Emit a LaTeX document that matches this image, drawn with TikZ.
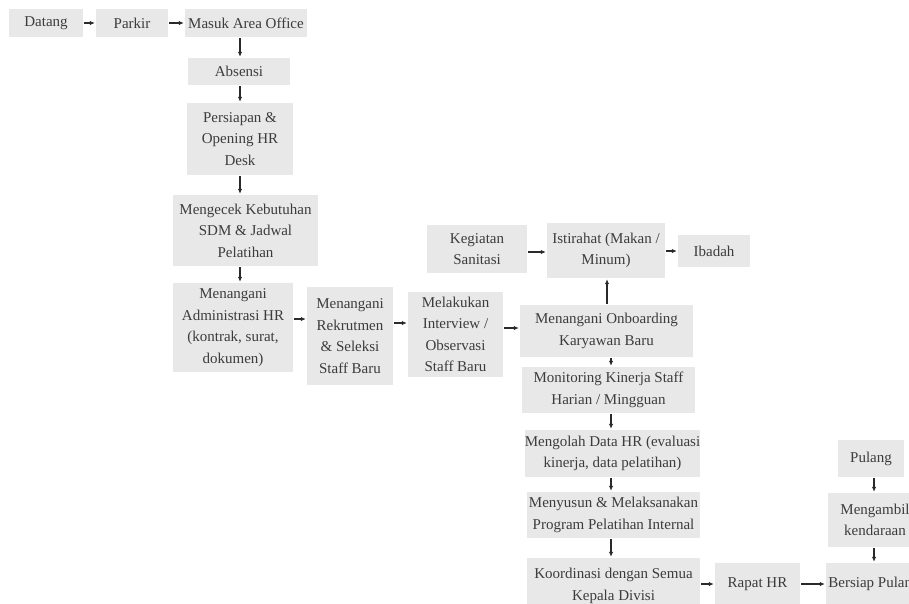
\documentclass[tikz,border=0pt]{standalone}
\usepackage{fontspec}
\setmainfont{Liberation Serif}
\usetikzlibrary{arrows.meta}
\definecolor{boxgray}{HTML}{E8E8E8}
\definecolor{txtgray}{HTML}{3C3C3C}
\definecolor{arrgray}{HTML}{2A2A2A}
\begin{document}
\begin{tikzpicture}[x=1pt,y=-1pt,
  bx/.style={fill=boxgray, text=txtgray, inner sep=0pt, align=center, font=\fontsize{15}{21.5}\selectfont},
  arr/.style={draw=arrgray, line width=1.2pt, shorten <=1pt, shorten >=1pt, -{Latex[length=5pt,width=4.5pt]}}]
\useasboundingbox (0,0) rectangle (909,603);
\fill[white] (0,0) rectangle (909,603);
\clip (0,0) rectangle (909,603);
% left column
\node[bx, minimum width=74pt, minimum height=28pt] (datang) at (46,23) {Datang};
\node[bx, minimum width=72pt, minimum height=28pt] (parkir) at (132,23) {Parkir};
\node[bx, minimum width=122pt, minimum height=28pt] (masuk) at (246,23) {Masuk Area Office};
\node[bx, minimum width=102pt, minimum height=27pt] (absensi) at (239,71.5) {Absensi};
\node[bx, minimum width=106pt, minimum height=72pt] (persiapan) at (240,139) {Persiapan \&\\Opening HR\\Desk};
\node[bx, minimum width=145pt, minimum height=71pt] (cek) at (245.5,230.5) {Mengecek Kebutuhan\\SDM \& Jadwal\\Pelatihan};
\node[bx, minimum width=120pt, minimum height=89pt] (admin) at (233,327.5) {Menangani\\Administrasi HR\\(kontrak, surat,\\dokumen)};
\node[bx, minimum width=86pt, minimum height=98pt] (rekrut) at (350,336) {Menangani\\Rekrutmen\\\& Seleksi\\Staff Baru};
\node[bx, minimum width=95pt, minimum height=85pt] (interview) at (455.5,334.5) {Melakukan\\Interview /\\Observasi\\Staff Baru};
% upper right
\node[bx, minimum width=100pt, minimum height=48pt] (sanitasi) at (477,249) {Kegiatan\\Sanitasi};
\node[bx, minimum width=118pt, minimum height=55pt] (istirahat) at (606,250.5) {Istirahat (Makan /\\Minum)};
\node[bx, minimum width=72pt, minimum height=32pt] (ibadah) at (714,251) {Ibadah};
% right column
\node[bx, minimum width=173pt, minimum height=52pt] (onboard) at (606.5,331) {Menangani Onboarding\\Karyawan Baru};
\node[bx, minimum width=173pt, minimum height=46pt] (monitor) at (608.5,390) {Monitoring Kinerja Staff\\Harian / Mingguan};
\node[bx, minimum width=175pt, minimum height=47pt] (olah) at (612.5,453.5) {Mengolah Data HR (evaluasi\\kinerja, data pelatihan)};
\node[bx, minimum width=173pt, minimum height=46pt] (susun) at (613.5,515) {Menyusun \& Melaksanakan\\Program Pelatihan Internal};
\node[bx, minimum width=173pt, minimum height=56pt] (koord) at (613.5,586) {Koordinasi dengan Semua\\Kepala Divisi};
\node[bx, minimum width=85pt, minimum height=42pt] (rapat) at (757.5,584) {Rapat HR};
\node[bx, minimum width=96pt, minimum height=42pt] (bersiap) at (874,584) {Bersiap Pulang};
\node[bx, minimum width=94pt, minimum height=54pt] (ambil) at (875,520) {Mengambil\\kendaraan};
\node[bx, minimum width=66pt, minimum height=37pt] (pulang) at (871,458.5) {Pulang};
% guide coordinates
\coordinate (xa) at (240,0);
\coordinate (xb) at (611,0);
\coordinate (xc) at (607,0);
\coordinate (xd) at (874,0);
\coordinate (ya) at (0,319);
\coordinate (yb) at (0,323);
\coordinate (yc) at (0,328);
\coordinate (yd) at (0,252);
\coordinate (ye) at (0,584);
% arrows
\draw[arr] (datang.east) -- (parkir.west);
\draw[arr] (parkir.east) -- (masuk.west);
\draw[arr] (masuk.south -| xa) -- (absensi.north -| xa);
\draw[arr] (absensi.south -| xa) -- (persiapan.north -| xa);
\draw[arr] (persiapan.south -| xa) -- (cek.north -| xa);
\draw[arr] (cek.south -| xa) -- (admin.north -| xa);
\draw[arr] (admin.east |- ya) -- (rekrut.west |- ya);
\draw[arr] (rekrut.east |- yb) -- (interview.west |- yb);
\draw[arr] (interview.east |- yc) -- (onboard.west |- yc);
\draw[arr] (sanitasi.east |- yd) -- (istirahat.west |- yd);
\draw[arr] (istirahat.east |- ibadah.west) -- (ibadah.west);
\draw[arr] (onboard.north -| xc) -- (istirahat.south -| xc);
\draw[arr] (onboard.south -| xb) -- (monitor.north -| xb);
\draw[arr] (monitor.south -| xb) -- (olah.north -| xb);
\draw[arr] (olah.south -| xb) -- (susun.north -| xb);
\draw[arr] (susun.south -| xb) -- (koord.north -| xb);
\draw[arr] (koord.east |- ye) -- (rapat.west |- ye);
\draw[arr] (rapat.east |- ye) -- (bersiap.west |- ye);
\draw[arr] (pulang.south -| xd) -- (ambil.north -| xd);
\draw[arr] (ambil.south -| xd) -- (bersiap.north -| xd);
\end{tikzpicture}
\end{document}
